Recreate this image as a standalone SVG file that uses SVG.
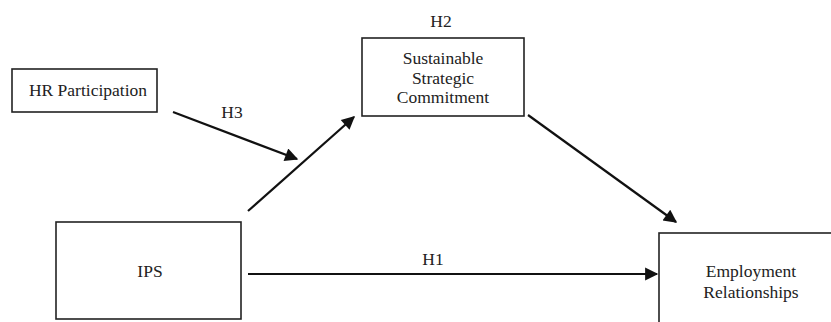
<svg xmlns="http://www.w3.org/2000/svg" width="831" height="322" viewBox="0 0 831 322">
<defs>
<style>
.box{fill:#fff;stroke:#222;stroke-width:1.6}
.t{font-family:'Liberation Serif','DejaVu Serif',serif;font-size:17.5px;fill:#222;text-anchor:middle}
.c{stroke:#111;stroke-width:2.2;fill:none;marker-end:url(#ah)}
</style>
<marker id="ah" viewBox="0 0 10 10" refX="9" refY="5" markerWidth="7" markerHeight="6" markerUnits="strokeWidth" orient="auto">
<path d="M0,0 L10,5 L0,10 z" fill="#111"/>
</marker>
</defs>
<rect width="831" height="322" fill="#fff"/>
<g id="hr">
<rect class="box" x="12" y="69" width="145" height="43"/>
<text class="t" x="88" y="96">HR Participation</text>
</g>
<g id="ssc">
<rect class="box" x="362" y="38" width="162" height="78"/>
<text class="t" x="443" y="64">Sustainable</text>
<text class="t" x="443" y="84">Strategic</text>
<text class="t" x="443" y="103">Commitment</text>
</g>
<g id="ips">
<rect class="box" x="56" y="222" width="185" height="97"/>
<text class="t" x="150" y="277">IPS</text>
</g>
<g id="emp">
<rect class="box" x="659" y="233" width="190" height="100"/>
<text class="t" x="751" y="277">Employment</text>
<text class="t" x="751" y="298">Relationships</text>
</g>
<g id="connectors">
<line class="c" x1="248" y1="274" x2="657" y2="274"/>
<line class="c" x1="173" y1="112" x2="297" y2="159"/>
<line class="c" x1="248" y1="211" x2="354" y2="117"/>
<line class="c" x1="528" y1="115" x2="676" y2="222"/>
</g>
<g id="labels">
<text class="t" x="441" y="27">H2</text>
<text class="t" x="232" y="118">H3</text>
<text class="t" x="433" y="265">H1</text>
</g>
</svg>
